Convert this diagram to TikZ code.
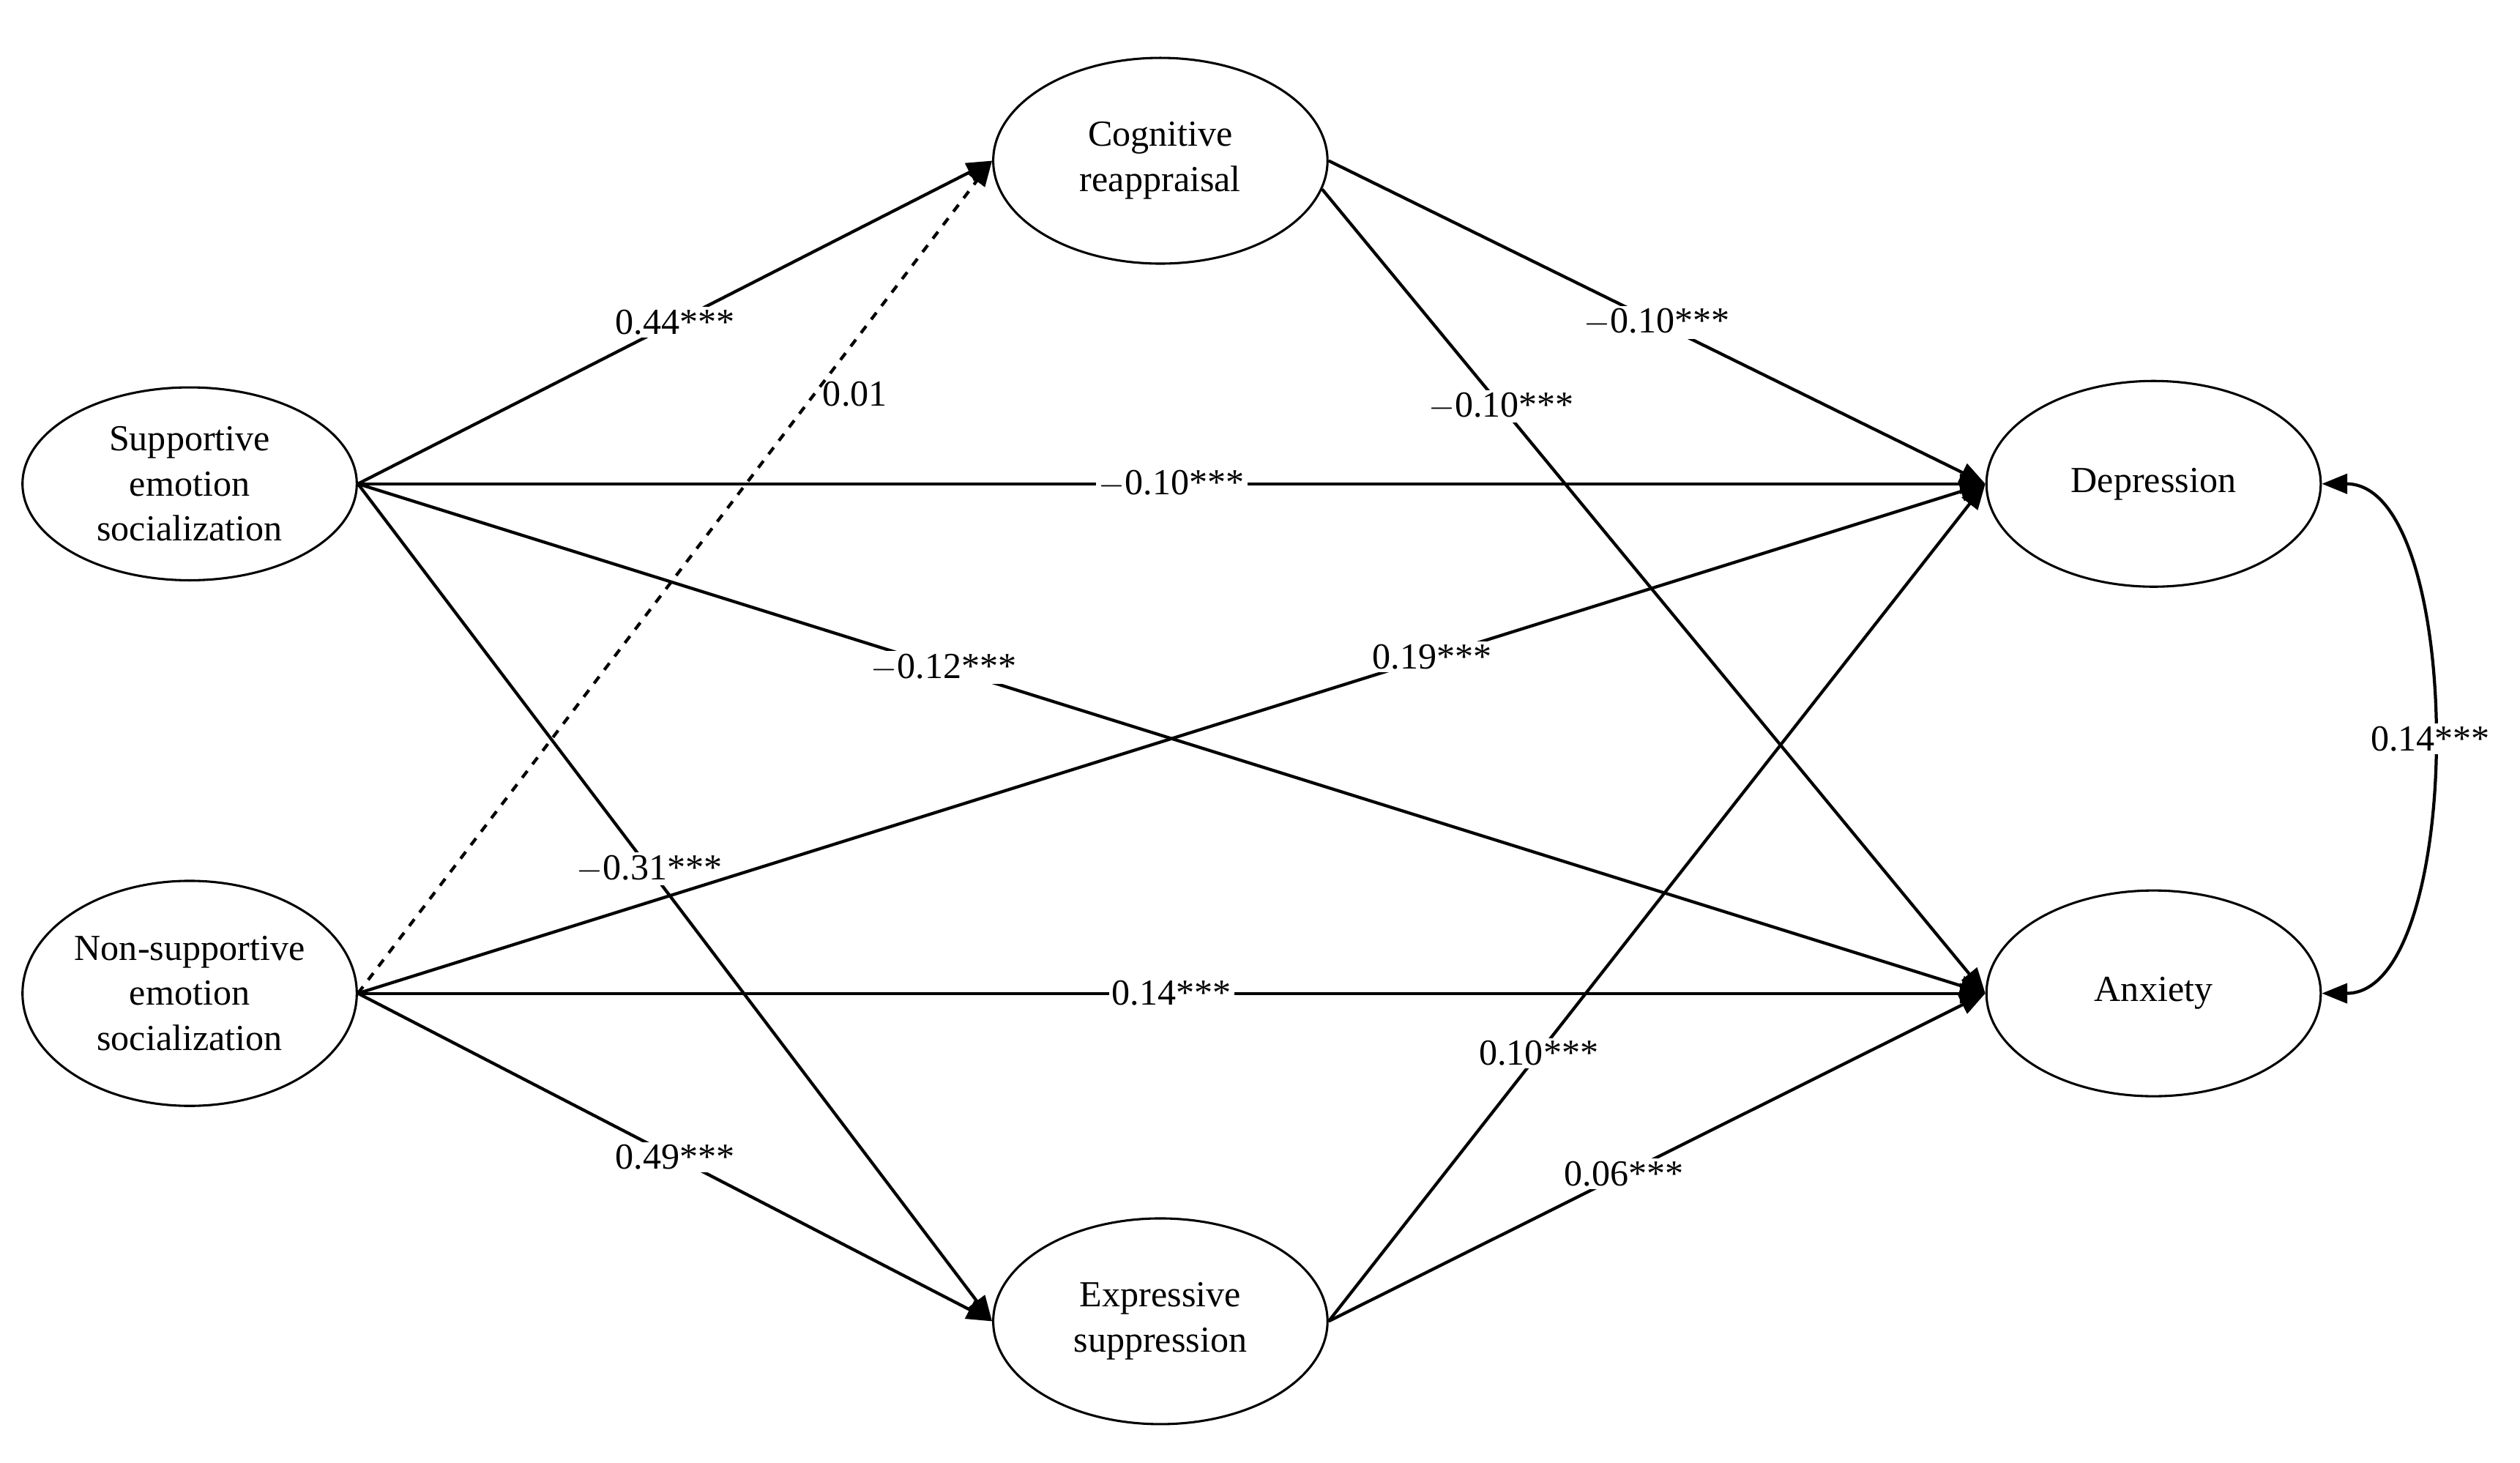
\documentclass[tikz,border=0pt]{standalone}
\usepackage{fontspec}
\setmainfont{Liberation Serif}
\usetikzlibrary{shapes.geometric,arrows.meta}
\begin{document}
\begin{tikzpicture}[x=0.02cm,y=-0.02cm,
  font=\fontsize{13}{16}\selectfont,
  var/.style={draw,thick,ellipse,minimum width=208*0.02cm,minimum height=128*0.02cm,align=center,inner sep=0pt},
  path/.style={line width=1.1pt,-{Triangle[length=9pt,width=7pt]}},
  lab/.style={fill=white,inner sep=1pt}]
\useasboundingbox (0,0) rectangle (1568,910);
\node[var,minimum height=120*0.02cm] (s) at (118,301) {Supportive\\emotion\\socialization};
\node[var,minimum height=140*0.02cm] (n) at (118,618) {Non-supportive\\emotion\\socialization};
\node[var] (c) at (722,100) {Cognitive\\reappraisal};
\node[var] (e) at (722,822) {Expressive\\suppression};
\node[var] (d) at (1340,301) {Depression};
\node[var] (a) at (1340,618) {Anxiety};
\draw[path] (s.east) -- (c.west) node[lab,pos=0.5] {0.44***};
\draw[path,dashed] (n.east) -- (c.west);
\node (l01) at (532,245) {0.01};
\draw[path] (s.east) -- (d.west) node[lab,pos=0.5] {$-$0.10***};
\draw[path] (s.east) -- (a.west) node[lab,pos=0.36] {$-$0.12***};
\draw[path] (s.east) -- (e.west) node[lab,pos=0.46] {$-$0.31***};
\draw[path] (n.east) -- (d.west) node[lab,pos=0.66] {0.19***};
\draw[path] (n.east) -- (a.west) node[lab,pos=0.5] {0.14***};
\draw[path] (n.east) -- (e.west) node[lab,pos=0.5] {0.49***};
\draw[path] (c.east) -- (d.west) node[lab,pos=0.5] {$-$0.10***};
\draw[path] (c.-10) -- (a.west) node[lab,pos=0.27] {$-$0.10***};
\draw[path] (e.east) -- (d.west) node[lab,pos=0.32] {0.10***};
\draw[path] (e.east) -- (a.west) node[lab,pos=0.45] {0.06***};
\draw[line width=1.1pt,{Triangle[length=9pt,width=7pt]}-{Triangle[length=9pt,width=7pt]}] (d.east) .. controls +(90,0) and +(90,0) .. node[lab] {0.14***} (a.east);
\end{tikzpicture}
\end{document}
